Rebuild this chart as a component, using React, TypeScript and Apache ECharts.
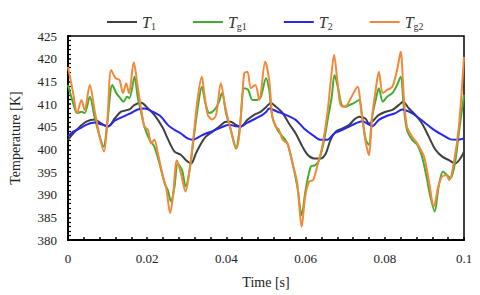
import React, { useEffect, useRef } from "react";
import * as echarts from "echarts";

const T1: [number, number][] = [
  [0, 402.1], [0.0013, 403.5], [0.003, 405.0], [0.0046, 406.1], [0.0067, 406.6], [0.0084, 405.7], [0.0101, 405.0],
  [0.0118, 406.8], [0.0134, 408.3], [0.0155, 408.8], [0.0168, 409.8], [0.0185, 410.3], [0.0202, 409.0], [0.0218, 407.6],
  [0.0239, 404.8], [0.0252, 402.3], [0.0269, 399.5], [0.0285, 398.8], [0.0298, 397.6], [0.0311, 396.9], [0.0323, 399.1],
  [0.0336, 401.3], [0.0348, 402.8], [0.0365, 403.9], [0.0382, 405.0], [0.0399, 406.1], [0.0411, 406.1], [0.0424, 405.4],
  [0.0436, 405.0], [0.0453, 406.5], [0.047, 407.6], [0.0487, 408.3], [0.0501, 409.4], [0.0512, 410.2], [0.0525, 409.4],
  [0.0542, 408.0], [0.0558, 405.7], [0.0575, 403.5], [0.0592, 400.6], [0.0605, 398.8], [0.0621, 398.0], [0.0638, 398.0],
  [0.0651, 399.1], [0.0663, 402.1], [0.0676, 403.9], [0.0693, 404.6], [0.071, 405.4], [0.0722, 406.5], [0.0735, 407.2],
  [0.0751, 406.8], [0.076, 405.7], [0.0768, 406.1], [0.0785, 407.6], [0.0802, 408.3], [0.0819, 408.7], [0.0836, 409.8],
  [0.0846, 410.5], [0.0861, 409.0], [0.0877, 407.6], [0.0894, 405.7], [0.0911, 402.8], [0.0928, 399.9], [0.0945, 398.4],
  [0.0962, 397.6], [0.0978, 396.9], [0.0991, 398.0], [0.1, 399.5],
];

const Tg1: [number, number][] = [
  [0, 414.2], [0.0013, 410.2], [0.0023, 408.0], [0.0034, 408.3], [0.0042, 408.0], [0.0055, 411.6], [0.0067, 407.2],
  [0.008, 402.8], [0.009, 400.6], [0.0099, 405.7], [0.0112, 414.2], [0.0122, 412.4], [0.0132, 411.3], [0.014, 410.5],
  [0.0149, 411.6], [0.0155, 411.3], [0.0168, 416.0], [0.0176, 411.6], [0.0185, 408.0], [0.0193, 405.0], [0.0206, 402.1],
  [0.0218, 400.6], [0.0231, 396.9], [0.0244, 392.5], [0.0252, 391.0], [0.026, 388.5], [0.0269, 391.8], [0.0277, 396.9],
  [0.0288, 395.4], [0.0297, 391.8], [0.0307, 395.4], [0.0317, 402.1], [0.0328, 409.4], [0.0338, 413.8], [0.0347, 410.2],
  [0.0357, 408.0], [0.037, 408.7], [0.038, 410.2], [0.0389, 412.4], [0.0399, 408.0], [0.0411, 404.3], [0.0424, 400.2],
  [0.0434, 405.0], [0.0445, 413.5], [0.0455, 413.1], [0.0466, 410.9], [0.0477, 410.9], [0.0487, 411.6], [0.05, 415.7],
  [0.0508, 413.1], [0.0516, 407.2], [0.0529, 404.3], [0.0542, 402.8], [0.0554, 401.3], [0.0567, 396.9], [0.0579, 391.8],
  [0.059, 385.5], [0.06, 391.0], [0.0613, 396.2], [0.0624, 396.5], [0.0634, 397.6], [0.0647, 402.1], [0.0657, 407.2],
  [0.0666, 411.6], [0.0673, 416.4], [0.0683, 413.1], [0.0691, 409.8], [0.0701, 409.4], [0.0711, 409.8], [0.0722, 410.2],
  [0.0735, 410.9], [0.0743, 407.2], [0.0752, 402.1], [0.076, 401.0], [0.0768, 407.2], [0.0777, 410.9], [0.0785, 413.5],
  [0.0795, 410.5], [0.0806, 411.6], [0.0819, 412.4], [0.0831, 414.2], [0.084, 416.0], [0.0848, 409.4], [0.0856, 404.3],
  [0.0869, 402.1], [0.0882, 401.0], [0.0894, 398.4], [0.0907, 393.2], [0.0915, 389.6], [0.0926, 386.3], [0.0936, 391.8],
  [0.0947, 395.1], [0.0957, 394.3], [0.0966, 393.6], [0.0977, 396.9], [0.0988, 404.3], [0.1, 412.0],
];

const T2: [number, number][] = [
  [0, 402.9], [0.0013, 403.9], [0.003, 404.6], [0.0046, 405.4], [0.0067, 405.9], [0.0084, 405.5], [0.0101, 405.1],
  [0.0118, 406.3], [0.0139, 407.2], [0.0159, 408.0], [0.0176, 408.8], [0.0193, 409.0], [0.0214, 408.3], [0.0235, 407.2],
  [0.0252, 405.4], [0.0269, 404.3], [0.0285, 403.5], [0.0302, 402.4], [0.0315, 402.1], [0.0332, 402.8], [0.0348, 403.5],
  [0.0365, 404.0], [0.0386, 404.8], [0.0407, 405.4], [0.0424, 405.1], [0.0436, 405.0], [0.0453, 405.9], [0.0474, 406.8],
  [0.0491, 407.6], [0.0501, 408.3], [0.0508, 409.0], [0.0529, 408.3], [0.055, 407.6], [0.0575, 406.5], [0.0596, 404.6],
  [0.0617, 403.2], [0.0638, 402.1], [0.0655, 402.1], [0.0672, 403.5], [0.0693, 404.3], [0.071, 405.0], [0.0726, 405.7],
  [0.0743, 406.2], [0.0756, 405.7], [0.0768, 405.1], [0.0785, 406.5], [0.0806, 407.4], [0.0827, 408.0], [0.0844, 408.8],
  [0.0861, 408.3], [0.0882, 407.2], [0.0903, 405.7], [0.0924, 404.3], [0.0945, 403.2], [0.0966, 402.2], [0.0982, 402.1],
  [0.1, 402.4],
];

const Tg2: [number, number][] = [
  [0, 418.2], [0.0013, 412.4], [0.0023, 408.0], [0.0034, 410.9], [0.0042, 408.7], [0.0055, 414.2], [0.0067, 408.7],
  [0.008, 402.8], [0.0091, 399.5], [0.0099, 405.7], [0.0109, 417.5], [0.012, 415.7], [0.013, 415.3], [0.0139, 412.4],
  [0.0147, 414.6], [0.0154, 412.4], [0.0166, 419.2], [0.0176, 413.8], [0.0185, 408.7], [0.0193, 405.0], [0.0202, 404.3],
  [0.021, 401.3], [0.0218, 402.1], [0.0227, 399.1], [0.0239, 394.3], [0.0248, 391.5], [0.0258, 385.9], [0.0265, 389.6],
  [0.0275, 397.6], [0.0285, 394.7], [0.0297, 390.7], [0.0307, 395.4], [0.0317, 402.8], [0.0328, 411.6], [0.0338, 416.0],
  [0.0344, 412.4], [0.0353, 407.6], [0.0364, 406.6], [0.0374, 407.6], [0.0386, 414.6], [0.0397, 409.4], [0.0411, 404.3],
  [0.0426, 400.2], [0.0434, 404.3], [0.0445, 416.8], [0.0453, 417.1], [0.0462, 413.5], [0.0473, 414.2], [0.0483, 410.9],
  [0.0498, 419.3], [0.0508, 415.3], [0.0516, 407.2], [0.0525, 405.0], [0.0533, 404.3], [0.0542, 402.1], [0.0554, 401.3],
  [0.0567, 396.9], [0.0579, 392.5], [0.059, 382.9], [0.0599, 389.6], [0.0609, 392.9], [0.0619, 393.2], [0.063, 396.5],
  [0.0642, 400.6], [0.0655, 408.0], [0.0663, 414.6], [0.0672, 420.8], [0.068, 415.3], [0.0688, 409.8], [0.0697, 409.4],
  [0.0705, 409.8], [0.0716, 411.6], [0.0731, 413.8], [0.0741, 408.0], [0.0752, 401.5], [0.076, 398.7], [0.0768, 407.2],
  [0.0777, 413.1], [0.0785, 417.1], [0.0795, 412.4], [0.0806, 413.1], [0.0819, 413.8], [0.0831, 417.5], [0.084, 421.5],
  [0.0848, 411.6], [0.0856, 405.0], [0.0869, 402.8], [0.0882, 401.3], [0.0899, 398.4], [0.0911, 393.2], [0.0924, 387.4],
  [0.0935, 391.8], [0.0945, 394.0], [0.0955, 394.3], [0.0963, 393.2], [0.0974, 396.9], [0.0987, 405.0], [0.1, 420.4],
];

const SERIES_NAMES = ["T1", "Tg1", "T2", "Tg2"];
const SERIES_DATA = [T1, Tg1, T2, Tg2];
const SERIES_COLORS = ["#404040", "#3fae2f", "#2727f0", "#f4883a"];
const LEGEND_LABELS: Record<string, string> = {
  T1: "{i|T}{s|1}",
  Tg1: "{i|T}{s|g1}",
  T2: "{i|T}{s|2}",
  Tg2: "{i|T}{s|g2}",
};

const FONT = "Liberation Serif, Times New Roman, serif";

export default function App() {
  const ref = useRef<HTMLDivElement>(null);
  useEffect(() => {
    if (!ref.current) return;
    const chart = echarts.init(ref.current, undefined, { renderer: "svg" });
    chart.setOption({
      animation: false,
      textStyle: { fontFamily: FONT },
      legend: {
        top: 9,
        left: 102,
        icon: "rect",
        itemWidth: 30,
        itemHeight: 2,
        itemGap: 37,
        data: SERIES_NAMES,
        formatter: (n: string) => LEGEND_LABELS[n],
        textStyle: {
          fontFamily: FONT,
          padding: [0, 0, 0, 0],
          rich: {
            i: { fontFamily: FONT, fontStyle: "italic", fontSize: 16, color: "#333" },
            s: { fontFamily: FONT, fontSize: 10, color: "#333", padding: [9, 0, 0, 0] },
          },
        },
      },
      grid: {
        left: 67,
        right: 16,
        top: 36,
        bottom: 55,
        show: true,
        borderColor: "#000",
        borderWidth: 1.5,
        containLabel: false,
      },
      xAxis: {
        type: "value",
        min: 0,
        max: 0.1,
        interval: 0.02,
        name: "Time [s]",
        nameLocation: "middle",
        nameGap: 35,
        nameTextStyle: { fontFamily: FONT, fontSize: 14, color: "#222" },
        axisLine: { lineStyle: { color: "#000", width: 2 } },
        axisTick: { inside: true, length: 3, lineStyle: { color: "#000", width: 1.5 } },
        minorTick: { show: true, splitNumber: 5, length: 3, lineStyle: { color: "#000", width: 1.5 } },
        axisLabel: {
          fontFamily: FONT,
          fontSize: 13,
          color: "#222",
          margin: 12,
          formatter: (v: number) => String(Math.round(v * 100) / 100),
        },
        splitLine: { show: false },
      },
      yAxis: {
        type: "value",
        min: 380,
        max: 425,
        interval: 5,
        name: "Temperature [K]",
        nameLocation: "middle",
        nameGap: 46,
        nameTextStyle: { fontFamily: FONT, fontSize: 14, color: "#222" },
        axisLine: { show: true, lineStyle: { color: "#000", width: 2 } },
        axisTick: { inside: true, length: 3, lineStyle: { color: "#000", width: 1.5 } },
        minorTick: { show: true, splitNumber: 5, length: 3, lineStyle: { color: "#000", width: 1.2 } },
        axisLabel: { fontFamily: FONT, fontSize: 13, color: "#222", margin: 11 },
        splitLine: { show: false },
      },
      series: SERIES_NAMES.map((name, i) => ({
        name,
        type: "line",
        data: SERIES_DATA[i],
        symbol: "none",
        smooth: 0.3,
        lineStyle: { color: SERIES_COLORS[i], width: 2 },
        itemStyle: { color: SERIES_COLORS[i] },
        z: i + 2,
      })),
    });
    return () => chart.dispose();
  }, []);
  return <div ref={ref} style={{ width: 480, height: 295, position: "absolute", left: 0, top: 0, background: "#fff" }} />;
}
